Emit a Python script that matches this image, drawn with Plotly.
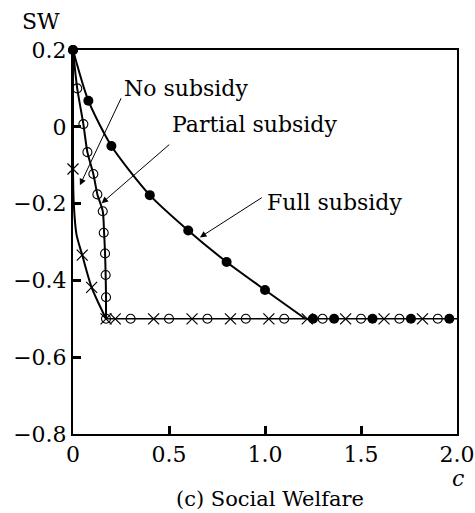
import plotly.graph_objects as go

# ---- data ----
full_x = [0, 0.08, 0.2, 0.4, 0.6, 0.8, 1.0, 1.25, 1.36, 1.56, 1.76, 1.96]
full_y = [0.2, 0.068, -0.05, -0.178, -0.27, -0.352, -0.425, -0.5, -0.5, -0.5, -0.5, -0.5]
full_curve_x = [0, 0.08, 0.2, 0.4, 0.6, 0.8, 1.0, 1.21]
full_curve_y = [0.2, 0.068, -0.05, -0.178, -0.27, -0.352, -0.425, -0.5]

part_x = [0, 0.022, 0.054, 0.075, 0.106, 0.127, 0.155, 0.16, 0.167, 0.17, 0.172, 0.172,
          0.3, 0.5, 0.7, 0.9, 1.1, 1.3, 1.5, 1.7, 1.9]
part_y = [0.2, 0.1, 0.007, -0.066, -0.123, -0.176, -0.22, -0.276, -0.33, -0.386, -0.444, -0.5,
          -0.5, -0.5, -0.5, -0.5, -0.5, -0.5, -0.5, -0.5, -0.5]
part_curve_x = [0, 0.022, 0.054, 0.075, 0.106, 0.127, 0.155, 0.162, 0.167, 0.17, 0.172, 0.172]
part_curve_y = [0.2, 0.1, 0.007, -0.066, -0.123, -0.176, -0.22, -0.276, -0.33, -0.386, -0.444, -0.5]

none_x = [0, 0.048, 0.097, 0.172, 0.22, 0.42, 0.62, 0.82, 1.02, 1.22, 1.42, 1.62, 1.82]
none_y = [-0.11, -0.334, -0.418, -0.5, -0.5, -0.5, -0.5, -0.5, -0.5, -0.5, -0.5, -0.5, -0.5]
none_curve_x = [0, 0.0, 0.004, 0.018, 0.048, 0.097, 0.172]
none_curve_y = [0.2, -0.11, -0.2, -0.28, -0.334, -0.418, -0.5]

floor_x = [0.172, 2.0]
floor_y = [-0.5, -0.5]

x_ticks = [0, 0.5, 1.0, 1.5, 2.0]
x_labels = ["0", "0.5", "1.0", "1.5", "2.0"]
y_ticks = [0.2, 0, -0.2, -0.4, -0.6, -0.8]
y_labels = ["0.2", "0", "\u22120.2", "\u22120.4", "\u22120.6", "\u22120.8"]

FONT = "DejaVu Serif"
W, H = 475, 513
# plot area on screen: x 73..457, y 50..434
SX0, SX1, SY0, SY1 = 73, 457, 50, 434
L, T, R, B = SX0, SY0, W - SX1, H - SY1
PW, PH = SX1 - SX0, SY1 - SY0


def px(xs):
    return (xs - SX0) / PW


def py(ys):
    return (SY1 - ys) / PH


fig = go.Figure()

fig.add_trace(go.Scatter(x=floor_x, y=floor_y, mode="lines",
                         line=dict(color="black", width=1.5), cliponaxis=False))
for cx, cy in [(full_curve_x, full_curve_y), (part_curve_x, part_curve_y), (none_curve_x, none_curve_y)]:
    fig.add_trace(go.Scatter(x=cx, y=cy, mode="lines",
                             line=dict(color="black", width=2, shape="spline", smoothing=0.7),
                             cliponaxis=False))

fig.add_trace(go.Scatter(x=none_x, y=none_y, mode="markers", cliponaxis=False,
                         marker=dict(symbol="x-thin-open", size=11, color="black",
                                     line=dict(color="black", width=1.2))))
fig.add_trace(go.Scatter(x=part_x, y=part_y, mode="markers", cliponaxis=False,
                         marker=dict(symbol="circle-open", size=9, color="black",
                                     line=dict(color="black", width=1.1))))
fig.add_trace(go.Scatter(x=full_x, y=full_y, mode="markers", cliponaxis=False,
                         marker=dict(symbol="circle", size=10, color="black")))

# arrows
arrows = [
    (0.036, -0.152, 0.254, 0.078),
    (0.149, -0.199, 0.509, -0.043),
    (0.661, -0.288, 0.991, -0.182),
]
for hx, hy, tx, ty in arrows:
    fig.add_annotation(x=hx, y=hy, ax=tx, ay=ty, xref="x", yref="y", axref="x", ayref="y",
                       text="", showarrow=True, arrowhead=2, arrowsize=1.3, arrowwidth=1,
                       arrowcolor="black")

labels = [("No subsidy", 0.255, 0.101), ("Partial subsidy", 0.505, 0.005), ("Full subsidy", 1.0, -0.198)]
for t, lx, ly in labels:
    fig.add_annotation(x=lx, y=ly, xref="x", yref="y", text=t, showarrow=False,
                       xanchor="left", yanchor="middle", font=dict(family=FONT, size=22, color="black"))

fig.add_annotation(x=px(20), y=py(22), xref="paper", yref="paper", text="SW", showarrow=False,
                   xanchor="left", yanchor="middle", font=dict(family=FONT, size=22, color="black"))
fig.add_annotation(x=px(458), y=py(478), xref="paper", yref="paper", text="<i>c</i>",
                   showarrow=False, xanchor="center", yanchor="middle",
                   font=dict(family=FONT, size=22, color="black"))
fig.add_annotation(x=px(270), y=py(499), xref="paper", yref="paper", text="(c) Social Welfare",
                   showarrow=False, xanchor="center", yanchor="middle",
                   font=dict(family=FONT, size=21, color="black"))

fig.update_layout(
    width=W, height=H, showlegend=False, hovermode=False,
    margin=dict(l=L, r=R, t=T, b=B, autoexpand=False),
    paper_bgcolor="white", plot_bgcolor="white",
    xaxis=dict(range=[0, 2], tickvals=x_ticks, ticktext=x_labels, showgrid=False, zeroline=False,
               showline=True, linecolor="black", linewidth=2, mirror=True, automargin=False,
               ticks="inside", ticklen=8, tickwidth=2.5, tickcolor="black",
               tickfont=dict(family=FONT, size=22, color="black")),
    yaxis=dict(range=[-0.8, 0.2], tickvals=y_ticks, ticktext=y_labels, showgrid=False, zeroline=False,
               showline=True, linecolor="black", linewidth=2, mirror=True, automargin=False,
               ticks="inside", ticklen=8, tickwidth=2.5, tickcolor="black",
               tickfont=dict(family=FONT, size=22, color="black")),
)

fig.write_html("out.html", config={"displayModeBar": False},
               post_script="document.body.style.margin='0';document.body.style.overflow='hidden';")
